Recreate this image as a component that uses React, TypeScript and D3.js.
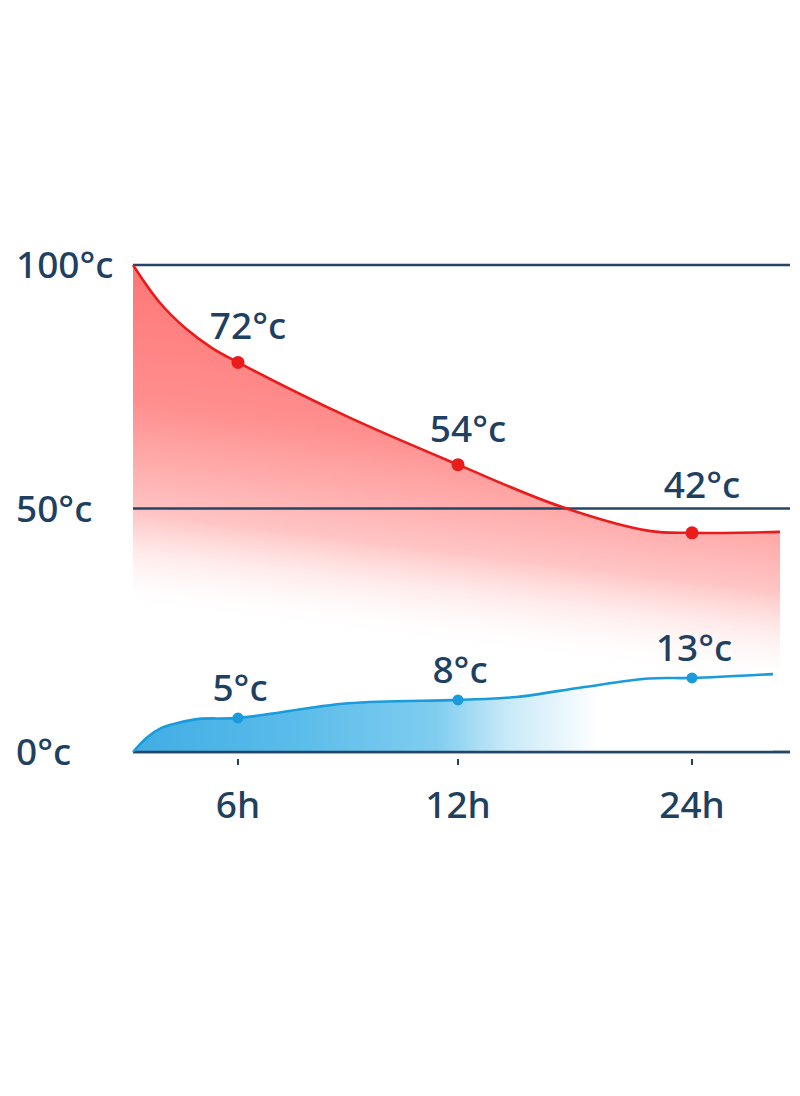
import React from 'react'
import * as d3 from 'd3'

// axis ticks
const yTicks = [0, 50, 100]
const yTickLabels = ['0°c', '50°c', '100°c']
const xTicks = [6, 12, 24]
const xTickLabels = ['6h', '12h', '24h']

// hot series (hours, °c as drawn)
const hotHours = [0, 1.5, 3, 4.5, 6, 9, 12, 17.2, 21.8, 24, 29]
const hotValues = [100, 92.4, 87, 83, 80, 68.8, 59, 50.5, 45.4, 45, 45.2]
const hotMarkHours = [6, 12, 24]
const hotMarkValues = [80, 59, 45]
const hotLabels = ['72°c', '54°c', '42°c']

// cold series
const coldHours = [0, 0.8, 1.6, 2.6, 3.8, 6, 9, 12, 15, 18.4, 21.8, 24, 28.6]
const coldValues = [0, 3.0, 4.9, 6.0, 6.8, 7.0, 10.0, 10.7, 11.3, 13.3, 15.1, 15.2, 16.0]
const coldMarkHours = [6, 12, 24]
const coldMarkValues = [7, 10.7, 15.2]
const coldLabels = ['5°c', '8°c', '13°c']

const ink = '#1f4161'
const font = '"Noto Sans", "Open Sans", sans-serif'

export default function App() {
    const width = 800, height = 1096
    // the time axis is not linear in the picture, so a piecewise scale
    const x = d3.scaleLinear().domain([0, 6, 12, 24, 29]).range([133, 238, 458, 692, 780])
    const y = d3.scaleLinear().domain([0, 100]).range([752, 265])
    const gridEnd = 790

    const hot = hotHours.map((h, i) => [h, hotValues[i]] as [number, number])
    const cold = coldHours.map((h, i) => [h, coldValues[i]] as [number, number])

    const curve = d3.curveCatmullRom.alpha(0.5)
    const line = d3.line<[number, number]>()
        .x(d => x(d[0])).y(d => y(d[1]))
        .curve(curve)
    const hotArea = d3.area<[number, number]>()
        .x(d => x(d[0])).y1(d => y(d[1])).y0(y(14))
        .curve(curve)
    const coldArea = d3.area<[number, number]>()
        .x(d => x(d[0])).y1(d => y(d[1])).y0(y(0))
        .curve(curve)

    // keep a value label clear of a grid line right under it
    const labelY = (py: number, lift: number) => {
        let ly = py - lift
        yTicks.forEach(t => {
            const gy = y(t)
            if (ly > gy - 12 && ly < gy + 30) ly = gy - 11
        })
        return ly
    }

    return (
        <svg width={width} height={height} style={{ position: 'absolute', left: 0, top: 0 }}
            fontFamily={font} fontWeight={500}>
            <defs>
                <linearGradient id="hotFill" gradientUnits="userSpaceOnUse" x1={460} y1={300} x2={418} y2={645}>
                    <stop offset="0" stopColor="#ff7676" />
                    <stop offset="0.4" stopColor="#ff8e8e" />
                    <stop offset="0.72" stopColor="#ffc4c4" />
                    <stop offset="1" stopColor="#ffffff" stopOpacity={0} />
                </linearGradient>
                <linearGradient id="coldFill" gradientUnits="userSpaceOnUse" x1={133} y1={0} x2={600} y2={0}>
                    <stop offset="0" stopColor="#40ade4" />
                    <stop offset="0.35" stopColor="#5abcea" />
                    <stop offset="0.65" stopColor="#80cdf0" />
                    <stop offset="0.8" stopColor="#c8e9f8" />
                    <stop offset="1" stopColor="#ffffff" />
                </linearGradient>
            </defs>

            <path d={hotArea(hot) || ''} fill="url(#hotFill)" />

            {yTicks.map((t, i) => (
                <g key={t}>
                    <line x1={x(0)} x2={gridEnd} y1={y(t)} y2={y(t)} stroke="#254662" strokeWidth={2.5} />
                    <text x={16} y={y(t)} dy="0.36em" fontSize={37} fill={ink}>{yTickLabels[i]}</text>
                </g>
            ))}

            <path d={coldArea(cold) || ''} fill="url(#coldFill)" />
            <line x1={x(0)} x2={gridEnd} y1={y(0)} y2={y(0)} stroke="#254662" strokeWidth={2.5} />

            {xTicks.map((t, i) => (
                <g key={t}>
                    <line x1={x(t)} x2={x(t)} y1={y(0) + 7} y2={y(0) + 13} stroke={ink} strokeWidth={2} />
                    <text x={x(t)} y={818} textAnchor="middle" fontSize={37} fill={ink}>{xTickLabels[i]}</text>
                </g>
            ))}

            <path d={line(hot) || ''} fill="none" stroke="#ea1b1b" strokeWidth={2.6} />
            <path d={line(cold) || ''} fill="none" stroke="#1a9bdb" strokeWidth={2.6} />

            {hotMarkHours.map((h, i) => (
                <g key={'h' + h}>
                    <circle cx={x(h)} cy={y(hotMarkValues[i])} r={6.5} fill="#ea1b1b" />
                    <text x={x(h) + 10} y={labelY(y(hotMarkValues[i]), 23)} textAnchor="middle" fontSize={37} fill={ink}>
                        {hotLabels[i]}
                    </text>
                </g>
            ))}
            {coldMarkHours.map((h, i) => (
                <g key={'c' + h}>
                    <circle cx={x(h)} cy={y(coldMarkValues[i])} r={5.5} fill="#1a9bdb" />
                    <text x={x(h) + 2} y={y(coldMarkValues[i]) - 17} textAnchor="middle" fontSize={37} fill={ink}>
                        {coldLabels[i]}
                    </text>
                </g>
            ))}
        </svg>
    )
}
